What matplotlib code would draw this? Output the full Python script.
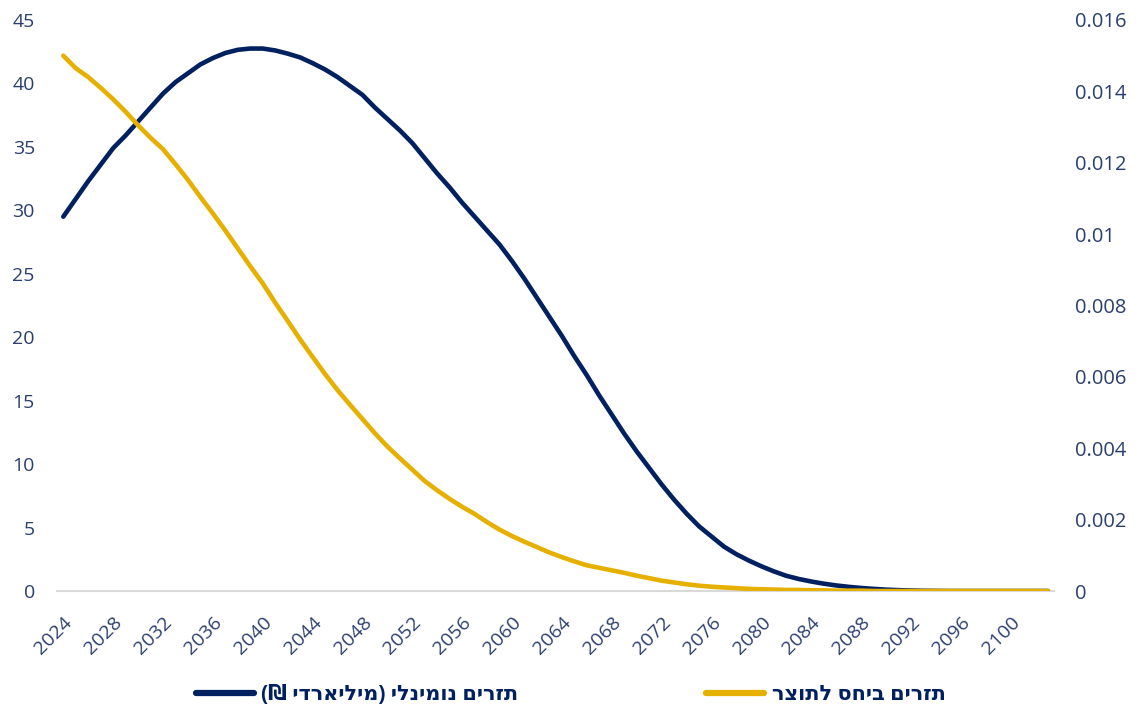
import matplotlib
matplotlib.use("Agg")
import matplotlib.pyplot as plt
import numpy as np
from matplotlib.ticker import FuncFormatter
from matplotlib.lines import Line2D

years = list(range(2024, 2104))

nominal_flows = [
    29.5, 30.9, 32.3, 33.6, 34.9, 35.9, 37.0, 38.1, 39.2, 40.1,
    40.8, 41.5, 42.0, 42.4, 42.65, 42.75, 42.75, 42.6, 42.35, 42.05,
    41.6, 41.1, 40.5, 39.8, 39.1, 38.1, 37.2, 36.3, 35.3, 34.1,
    32.9, 31.8, 30.6, 29.5, 28.4, 27.3, 26.0, 24.6, 23.1, 21.6,
    20.1, 18.5, 17.0, 15.4, 13.9, 12.4, 11.0, 9.7, 8.4, 7.2,
    6.1, 5.1, 4.3, 3.5, 2.9, 2.4, 1.95, 1.55, 1.2, 0.95,
    0.75, 0.58, 0.44, 0.33, 0.24, 0.17, 0.11, 0.07, 0.04, 0.02,
    0.01, 0.0, 0.0, 0.0, 0.0, 0.0, 0.0, 0.0, 0.0, 0.0,
]

gdp_ratio = [
    0.0150, 0.01465, 0.01440, 0.01410, 0.01378, 0.01343, 0.01305, 0.01270, 0.01238, 0.01196,
    0.01152, 0.01104, 0.01058, 0.01010, 0.00960, 0.00910, 0.00862, 0.00808, 0.00757, 0.00705,
    0.00656, 0.00608, 0.00563, 0.00522, 0.00482, 0.00442, 0.00405, 0.00372, 0.00340, 0.00308,
    0.00282, 0.00258, 0.00236, 0.00216, 0.00193, 0.00172, 0.00154, 0.00138, 0.00123, 0.00108,
    0.00095, 0.00083, 0.00072, 0.00065, 0.00058, 0.00051, 0.00043, 0.00036, 0.00029, 0.00024,
    0.00019, 0.00015, 0.00012, 0.00010, 0.00008, 0.00006, 0.00005, 0.00004, 0.00003, 0.00003,
    0.00002, 0.00002, 0.00001, 0.00001, 0.00001, 0.0, 0.0, 0.0, 0.0, 0.0,
    0.0, 0.0, 0.0, 0.0, 0.0, 0.0, 0.0, 0.0, 0.0, 0.0,
]

x_ticks = list(range(2024, 2101, 4))
left_ticks = [0, 5, 10, 15, 20, 25, 30, 35, 40, 45]
right_ticks = [0, 0.002, 0.004, 0.006, 0.008, 0.010, 0.012, 0.014, 0.016]

label_nominal = "תזרים נומינלי (מיליארדי ₪)"
label_gdp = "תזרים ביחס לתוצר"


def visual(s):
    # matplotlib has no bidi support: reverse to visual order and mirror brackets
    mirror = {"(": ")", ")": "("}
    return "".join(mirror.get(c, c) for c in reversed(s))


NAVY = "#002060"
GOLD = "#E6B000"
TICK = "#2B3F6E"

plt.rcParams['font.family'] = ['Open Sans', 'DejaVu Sans']

fig = plt.figure(figsize=(11.41, 7.09), dpi=100)
ax = fig.add_axes([0.05, 0.1664, 0.874, 0.8054])
ax2 = ax.twinx()

ax.plot(years, nominal_flows, color=NAVY, lw=3.3, solid_capstyle='round', solid_joinstyle='round')
ax2.plot(years, gdp_ratio, color=GOLD, lw=3.3, solid_capstyle='round', solid_joinstyle='round')

ax.set_xlim(2023.5, 2103.5)
ax.set_ylim(0, 45)
ax2.set_ylim(0, 0.016)

ax.set_yticks(left_ticks)
ax2.set_yticks(right_ticks)
ax2.yaxis.set_major_formatter(FuncFormatter(lambda v, p: "0" if v == 0 else f"{v:g}"))
ax.set_xticks(x_ticks)
ax.set_xticklabels([str(t) for t in x_ticks], rotation=45, ha='right', rotation_mode='anchor')

for a in (ax, ax2):
    for s in a.spines.values():
        s.set_visible(False)
ax.spines['bottom'].set_visible(True)
ax.spines['bottom'].set_color('#D9D9D9')
ax.spines['bottom'].set_linewidth(1.5)

ax.tick_params(axis='y', length=0, pad=16, labelsize=14, labelcolor=TICK)
ax2.tick_params(axis='y', length=0, pad=15, labelsize=14.5, labelcolor=TICK)
ax.tick_params(axis='x', length=0, pad=16, labelsize=14, labelcolor=TICK)

handles = [
    Line2D([], [], color=NAVY, lw=4.5, solid_capstyle='round'),
    Line2D([], [], color=GOLD, lw=4.5, solid_capstyle='round'),
]
leg = fig.legend(handles, [visual(label_nominal), visual(label_gdp)],
                 loc='center', bbox_to_anchor=(0.5, 0.02), ncol=2, frameon=False,
                 handlelength=2.8, handletextpad=0.35, columnspacing=9.0,
                 prop={'size': 15, 'weight': 'bold'})
for t in leg.get_texts():
    t.set_color(NAVY)

fig.savefig("out.png", dpi=100)
